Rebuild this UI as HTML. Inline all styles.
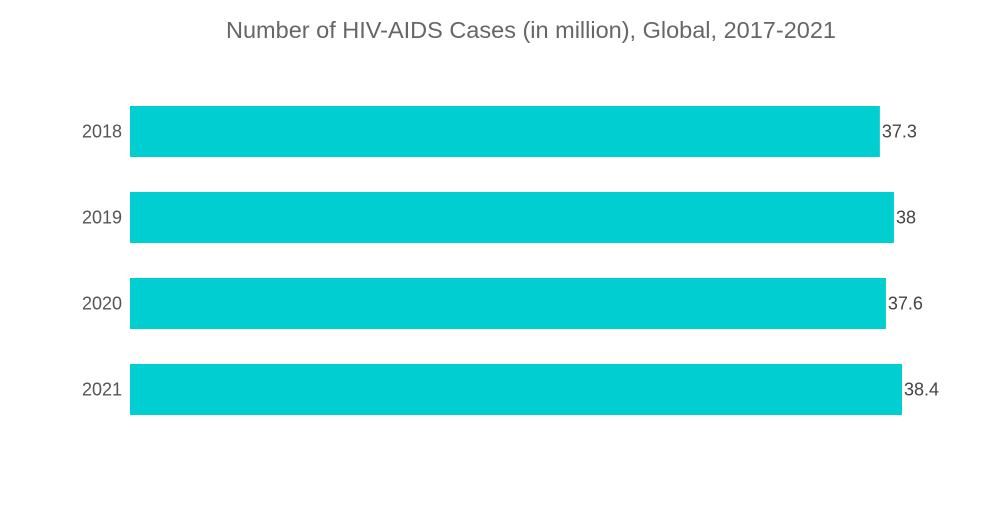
<!DOCTYPE html>
<html><head><meta charset="utf-8"><style>
body{margin:0;background:#fff;width:1000px;height:504px;overflow:hidden;font-family:"Liberation Sans",sans-serif}
</style></head><body>
<svg width="1000" height="504">
<text x="531" y="38" text-anchor="middle" font-size="23.5" fill="#666">Number of HIV-AIDS Cases (in million), Global, 2017-2021</text>
<g id="bars"></g>
</svg>
<script>
const categories=["2018","2019","2020","2021"];
const values=[37.3,38,37.6,38.4];
const labels=["37.3","38","37.6","38.4"];
const x0=130,scale=772/38.4,top0=106,step=86,bh=51;
const g=document.getElementById('bars');
const ns="http://www.w3.org/2000/svg";
function xs(v){return x0+v*scale;}
categories.forEach((c,i)=>{
 const y=top0+i*step;
 const r=document.createElementNS(ns,'rect');
 r.setAttribute('x',x0);r.setAttribute('y',y);r.setAttribute('width',xs(values[i])-x0);r.setAttribute('height',bh);r.setAttribute('fill','#00ced1');
 
 
 g.appendChild(r);
 const t=document.createElementNS(ns,'text');
 t.setAttribute('x',122);t.setAttribute('y',y+bh/2+6);t.setAttribute('text-anchor','end');t.setAttribute('font-size','18');t.setAttribute('fill','#555');
 t.textContent=c;
 
 
 g.appendChild(t);
 const v=document.createElementNS(ns,'text');
 v.setAttribute('x',xs(values[i])+2);v.setAttribute('y',y+bh/2+6);v.setAttribute('font-size','18');v.setAttribute('fill','#444');
 v.textContent=labels[i];
 
 
 g.appendChild(v);
});
</script>
</body></html>
